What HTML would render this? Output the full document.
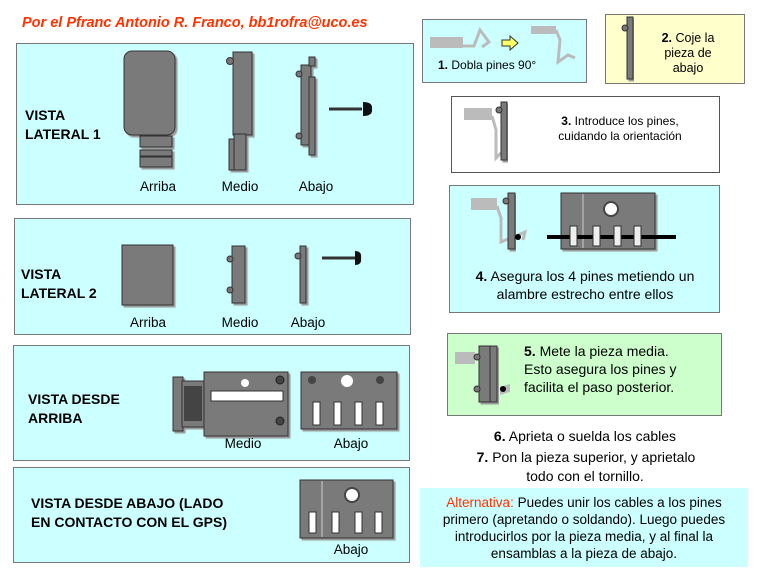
<!DOCTYPE html>
<html><head><meta charset="utf-8"><style>
html,body{margin:0;padding:0;background:#fff;width:767px;height:575px;overflow:hidden}
svg text{font-family:"Liberation Sans",sans-serif}
</style></head><body>
<svg width="767" height="575" viewBox="0 0 767 575" xmlns="http://www.w3.org/2000/svg">
<defs>
<filter id="sh"><feDropShadow dx="2" dy="2" stdDeviation="0.6" flood-color="#999"/></filter>
</defs>
<text x="22" y="27" font-size="14.5" font-weight="bold" font-style="italic" fill="#ff3300">Por el Pfranc Antonio R. Franco, bb1rofra@uco.es</text>

<!-- Box 1 -->
<rect x="16.5" y="43.5" width="397" height="161" fill="#ccffff" stroke="#777"/>
<text x="25" y="120" font-size="14" font-weight="bold">VISTA</text>
<text x="25" y="139" font-size="14" font-weight="bold">LATERAL 1</text>
<g fill="#7a7a7a" stroke="#333" filter="url(#sh)">
<rect x="124" y="51" width="51" height="84" rx="8"/>
<rect x="140" y="136" width="32" height="11"/>
<rect x="140" y="150" width="32" height="6"/>
<rect x="140" y="157" width="32" height="10"/>
<rect x="233" y="52" width="19" height="83"/>
<rect x="229" y="139" width="17" height="31"/>
<rect x="234" y="134" width="12" height="36"/>
<rect x="301" y="65" width="10" height="80"/>
<rect x="309" y="57" width="6" height="9"/>
<rect x="309" y="77" width="6" height="78"/>
</g>
<circle cx="230" cy="61" r="3.5" fill="#777" stroke="#333"/>
<circle cx="299" cy="74" r="3" fill="#777" stroke="#333"/>
<circle cx="299" cy="136" r="3" fill="#777" stroke="#333"/>
<line x1="329" y1="109" x2="362" y2="109" stroke="#333" stroke-width="3"/>
<path d="M363 102 Q373 102 372 109 Q373 116 363 116Z" fill="#111"/>
<text x="158" y="191" font-size="13.5" text-anchor="middle">Arriba</text>
<text x="240" y="191" font-size="13.5" text-anchor="middle">Medio</text>
<text x="316" y="191" font-size="13.5" text-anchor="middle">Abajo</text>

<!-- Box 2 -->
<rect x="14.5" y="218.5" width="396" height="116" fill="#ccffff" stroke="#777"/>
<text x="21" y="279" font-size="14" font-weight="bold">VISTA</text>
<text x="21" y="298" font-size="14" font-weight="bold">LATERAL 2</text>
<g fill="#7a7a7a" stroke="#333" filter="url(#sh)">
<rect x="122" y="245" width="51" height="60"/>
<rect x="232" y="246" width="13" height="57"/>
<rect x="300" y="246" width="6" height="57"/>
</g>
<circle cx="230" cy="259" r="3" fill="#777" stroke="#333"/>
<circle cx="230" cy="290" r="3" fill="#777" stroke="#333"/>
<circle cx="298" cy="256" r="3" fill="#777" stroke="#333"/>
<line x1="322" y1="258" x2="355" y2="258" stroke="#333" stroke-width="3"/>
<path d="M355 251 Q362 251 361 258 Q362 265 355 265Z" fill="#111"/>
<text x="148" y="327" font-size="13.5" text-anchor="middle">Arriba</text>
<text x="240" y="327" font-size="13.5" text-anchor="middle">Medio</text>
<text x="308" y="327" font-size="13.5" text-anchor="middle">Abajo</text>

<!-- Box 3 -->
<rect x="13.5" y="345.5" width="396" height="115" fill="#ccffff" stroke="#777"/>
<text x="28" y="404" font-size="14" font-weight="bold">VISTA DESDE</text>
<text x="28" y="423" font-size="14" font-weight="bold">ARRIBA</text>
<g fill="#7a7a7a" stroke="#333" filter="url(#sh)">
<rect x="173" y="377" width="10" height="54"/>
<rect x="182" y="381" width="24" height="46"/>
<rect x="204" y="372" width="84" height="64"/>
<rect x="301" y="372" width="96" height="57"/>
</g>
<rect x="184" y="386" width="18" height="35" fill="#444"/>
<rect x="211" y="391" width="72" height="10" fill="#fff" stroke="#333"/>
<circle cx="245" cy="383" r="4" fill="#fff"/>
<circle cx="280" cy="380" r="4" fill="#444" stroke="#222"/>
<circle cx="280" cy="421" r="4" fill="#444" stroke="#222"/>
<circle cx="347" cy="381" r="6" fill="#fff"/>
<circle cx="312" cy="380" r="4" fill="#444"/><circle cx="380" cy="380" r="4" fill="#444"/>
<g fill="#fff" stroke="#333">
<rect x="313" y="402" width="7" height="23"/><rect x="334" y="402" width="7" height="23"/>
<rect x="355" y="402" width="7" height="23"/><rect x="376" y="402" width="7" height="23"/>
</g>
<text x="243" y="448" font-size="13.5" text-anchor="middle">Medio</text>
<text x="351" y="448" font-size="13.5" text-anchor="middle">Abajo</text>

<!-- Box 4 -->
<rect x="13.5" y="467.5" width="396" height="95" fill="#ccffff" stroke="#777"/>
<text x="31" y="508" font-size="14" font-weight="bold">VISTA DESDE ABAJO (LADO</text>
<text x="31" y="527" font-size="14" font-weight="bold">EN CONTACTO CON EL GPS)</text>
<g fill="#7a7a7a" stroke="#333" filter="url(#sh)">
<rect x="300" y="480" width="93" height="58"/>
</g>
<line x1="322" y1="481" x2="322" y2="537" stroke="#ccc"/>
<circle cx="352" cy="495" r="7" fill="#fff" stroke="#444" stroke-width="2"/>
<g fill="#fff" stroke="#333">
<rect x="309" y="512" width="7" height="21"/><rect x="332" y="512" width="7" height="21"/>
<rect x="355" y="512" width="7" height="21"/><rect x="375" y="512" width="7" height="21"/>
</g>
<text x="351" y="554" font-size="13.5" text-anchor="middle">Abajo</text>

<!-- Step 1 -->
<rect x="422.5" y="19.5" width="164" height="63" fill="#ccffff" stroke="#777"/>
<rect x="430" y="37" width="33" height="11" fill="#bbb"/>
<polyline points="463,46 474,46 480,30 489,42 482,47" fill="none" stroke="#bbb" stroke-width="3"/>
<path d="M502 40 h8 v-4 l8 7 l-8 7 v-4 h-8z" fill="#ffff66" stroke="#333"/>
<rect x="531" y="26" width="25" height="8" fill="#bbb"/>
<polyline points="556,30 560,40 558,62 568,55 575,58" fill="none" stroke="#bbb" stroke-width="3"/>
<text x="438" y="69" font-size="12"><tspan font-weight="bold">1.</tspan> Dobla pines 90°</text>

<!-- Step 2 -->
<rect x="605.5" y="14.5" width="139" height="69" fill="#ffffcc" stroke="#777"/>
<rect x="627" y="17" width="6" height="62" fill="#7a7a7a" stroke="#333" filter="url(#sh)"/>
<circle cx="625" cy="28" r="3" fill="#777" stroke="#333"/>
<text x="688" y="42" font-size="12.5" text-anchor="middle"><tspan font-weight="bold">2.</tspan> Coje la</text>
<text x="688" y="57" font-size="12.5" text-anchor="middle">pieza de</text>
<text x="688" y="72" font-size="12.5" text-anchor="middle">abajo</text>

<!-- Step 3 -->
<rect x="451.5" y="96.5" width="268" height="76" fill="#fff" stroke="#555"/>
<rect x="464" y="108" width="28" height="12" fill="#bbb"/>
<polyline points="492,116 496,130 496,158 506,148" fill="none" stroke="#bbb" stroke-width="3"/>
<rect x="501" y="102" width="6" height="58" fill="#7a7a7a" stroke="#333" filter="url(#sh)"/>
<circle cx="499" cy="110" r="3" fill="#777" stroke="#333"/>
<text x="620" y="125" font-size="12" text-anchor="middle"><tspan font-weight="bold">3.</tspan> Introduce los pines,</text>
<text x="620" y="140" font-size="12" text-anchor="middle">cuidando la orientación</text>

<!-- Step 4 -->
<rect x="449.5" y="185.5" width="270" height="127" fill="#ccffff" stroke="#777"/>
<rect x="471" y="198" width="26" height="12" fill="#bbb"/>
<polyline points="497,206 501,218 501,242 525,232 523,240" fill="none" stroke="#bbb" stroke-width="3"/>
<rect x="508" y="193" width="7" height="56" fill="#7a7a7a" stroke="#333" filter="url(#sh)"/>
<circle cx="506" cy="201" r="3" fill="#777" stroke="#333"/>
<circle cx="518" cy="237" r="3" fill="#000"/>
<rect x="561" y="193" width="94" height="56" fill="#7a7a7a" stroke="#333" filter="url(#sh)"/>
<line x1="583" y1="194" x2="583" y2="248" stroke="#ccc"/>
<circle cx="611" cy="209" r="7" fill="#fff" stroke="#444" stroke-width="2"/>
<line x1="547" y1="237" x2="676" y2="237" stroke="#000" stroke-width="4"/>
<g fill="#eee" stroke="#333">
<rect x="570" y="226" width="7" height="20"/><rect x="593" y="226" width="7" height="20"/>
<rect x="614" y="226" width="7" height="20"/><rect x="634" y="226" width="7" height="20"/>
</g>
<text x="585" y="281" font-size="14" text-anchor="middle"><tspan font-weight="bold">4.</tspan> Asegura los 4 pines metiendo un</text>
<text x="585" y="299" font-size="14" text-anchor="middle">alambre estrecho entre ellos</text>

<!-- Step 5 -->
<rect x="447.5" y="333.5" width="274" height="82" fill="#ccffcc" stroke="#777"/>
<rect x="455" y="352" width="20" height="12" fill="#bbb"/>
<path d="M500 387 l10 -3 l0 8 l-10 3z" fill="#bbb"/>
<rect x="479" y="346" width="18" height="56" fill="#7a7a7a" stroke="#333" filter="url(#sh)"/>
<line x1="490" y1="346" x2="490" y2="402" stroke="#333"/>
<circle cx="477" cy="357" r="3" fill="#777" stroke="#333"/>
<circle cx="477" cy="389" r="3" fill="#777" stroke="#333"/>
<circle cx="503" cy="389" r="3" fill="#000"/>
<text x="524" y="356" font-size="14"><tspan font-weight="bold">5.</tspan> Mete la pieza media.</text>
<text x="524" y="374" font-size="14">Esto asegura los pines y</text>
<text x="524" y="392" font-size="14">facilita el paso posterior.</text>

<text x="585" y="441" font-size="14" text-anchor="middle"><tspan font-weight="bold">6.</tspan> Aprieta o suelda los cables</text>
<text x="586" y="462" font-size="14" text-anchor="middle"><tspan font-weight="bold">7.</tspan> Pon la pieza superior, y aprietalo</text>
<text x="585" y="481" font-size="14" text-anchor="middle">todo con el tornillo.</text>

<rect x="420" y="488" width="328" height="79" fill="#ccffff"/>
<text x="584" y="507" font-size="13.5" text-anchor="middle"><tspan fill="#ff3300">Alternativa:</tspan> Puedes unir los cables a los pines</text>
<text x="584" y="524" font-size="13.5" text-anchor="middle">primero (apretando o soldando). Luego puedes</text>
<text x="584" y="541" font-size="13.5" text-anchor="middle">introducirlos por la pieza media, y al final la</text>
<text x="584" y="558" font-size="13.5" text-anchor="middle">ensamblas a la pieza de abajo.</text>
</svg>
</body></html>
